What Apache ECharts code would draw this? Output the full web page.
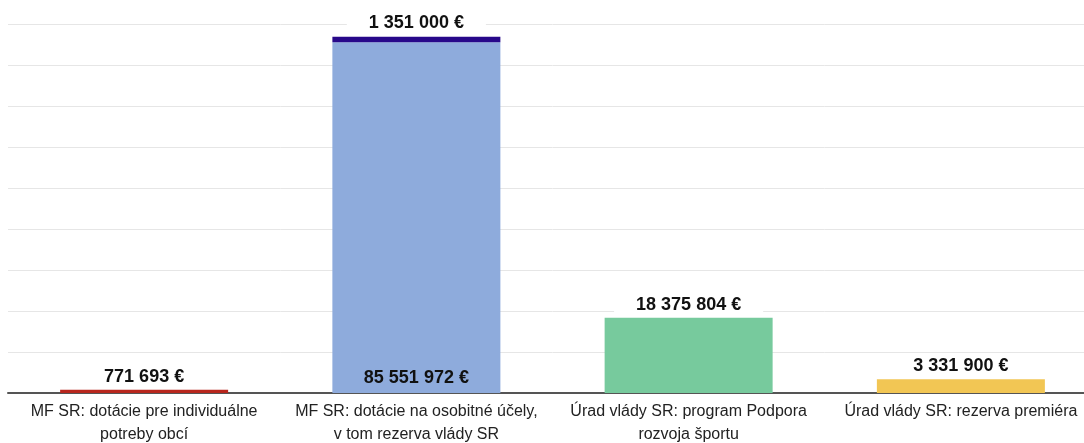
<!DOCTYPE html>
<html>
<head>
<meta charset="utf-8">
<script src="https://cdn.jsdelivr.net/npm/echarts@6/dist/echarts.min.js"></script>
<style>
html, body { margin: 0; padding: 0; background: #fff; overflow: hidden; }
#chart { width: 1097px; height: 443px; }
</style>
</head>
<body>
<div id="chart"></div>
<script>
var categories = [
    'MF SR: dotácie pre individuálne\npotreby obcí',
    'MF SR: dotácie na osobitné účely,\nv tom rezerva vlády SR',
    'Úrad vlády SR: program Podpora\nrozvoja športu',
    'Úrad vlády SR: rezerva premiéra'
];
var baseValues = [771693, 85551972, 18375804, 3331900];
var topValues = [null, 1351000, null, null];
var baseColors = ['#b8261d', '#8eabdc', '#77ca9d', '#f2c654'];
var topColor = '#28088a';

function fmt(v) {
    return String(v).replace(/\B(?=(\d{3})+(?!\d))/g, ' ') + ' €';
}

var labelStyle = {
    show: true,
    color: '#111',
    fontFamily: 'Liberation Sans, Arial, sans-serif',
    fontWeight: 'bold',
    fontSize: 18,
    backgroundColor: '#fff',
    padding: [2, 22],
    formatter: function (p) { return fmt(p.value); }
};

var baseData = baseValues.map(function (v, i) {
    return {
        value: v,
        itemStyle: { color: baseColors[i] },
        label: {
            position: topValues[i] ? 'insideBottom' : 'top',
            backgroundColor: topValues[i] ? 'transparent' : '#fff',
            distance: topValues[i] ? 4 : 2
        }
    };
});

var dom = document.getElementById('chart');
var myChart = echarts.init(dom);

var option = {
    animation: false,
    grid: {
        left: 8,
        right: 0,
        top: 24,
        bottom: 50,
        outerBoundsMode: 'none'
    },
    xAxis: {
        type: 'category',
        data: categories,
        axisTick: { show: false },
        axisLine: { lineStyle: { color: '#555', width: 2 } },
        axisLabel: {
            color: '#222',
            fontFamily: 'Liberation Sans, Arial, sans-serif',
            fontSize: 16,
            lineHeight: 23,
            margin: 7,
            interval: 0
        }
    },
    yAxis: {
        type: 'value',
        min: 0,
        max: 90000000,
        interval: 10000000,
        axisLabel: { show: false },
        axisLine: { show: false },
        axisTick: { show: false },
        splitLine: { lineStyle: { color: '#e6e6e6', width: 1 } }
    },
    series: [
        {
            name: 'base',
            type: 'bar',
            stack: 'total',
            barWidth: 168,
            data: baseData,
            label: labelStyle
        },
        {
            name: 'top',
            type: 'bar',
            stack: 'total',
            barWidth: 168,
            itemStyle: { color: topColor },
            data: topValues,
            label: Object.assign({}, labelStyle, { position: 'top', distance: 3 })
        }
    ]
};

myChart.setOption(option);
</script>
</body>
</html>
